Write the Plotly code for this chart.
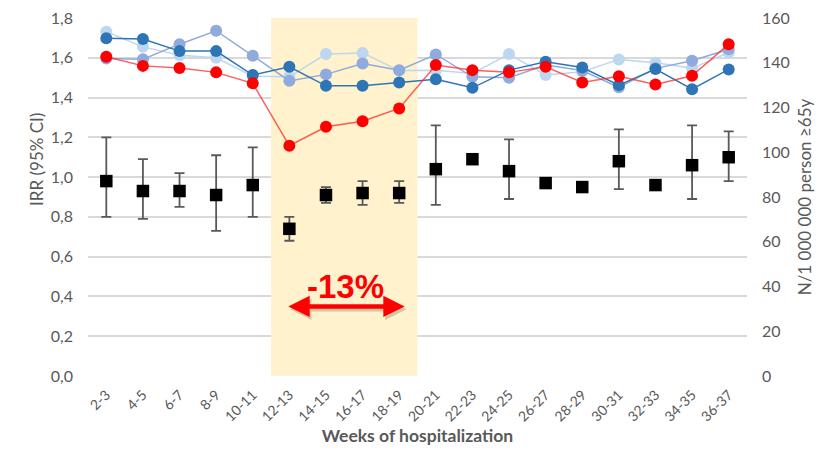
import plotly.graph_objects as go

# Two-week hospitalization periods
weeks = ["2-3", "4-5", "6-7", "8-9", "10-11", "12-13", "14-15", "16-17", "18-19",
         "20-21", "22-23", "24-25", "26-27", "28-29", "30-31", "32-33", "34-35", "36-37"]

# Incidence rate ratio with 95% confidence interval (left axis)
irr = [0.98, 0.93, 0.93, 0.91, 0.96, 0.74, 0.91, 0.92, 0.92,
       1.04, 1.09, 1.03, 0.97, 0.95, 1.08, 0.96, 1.06, 1.10]
irr_lo = [0.80, 0.79, 0.85, 0.73, 0.80, 0.68, 0.87, 0.86, 0.87,
          0.86, 1.07, 0.89, 0.95, 0.93, 0.94, 0.94, 0.89, 0.98]
irr_hi = [1.20, 1.09, 1.02, 1.11, 1.15, 0.80, 0.95, 0.98, 0.98,
          1.26, 1.11, 1.19, 0.99, 0.97, 1.24, 0.98, 1.26, 1.23]

# Hospitalizations per 1 000 000 persons aged 65+ (right axis)
rate_light = [153.9, 147.1, 143.4, 142.2, 134.0, 133.7, 143.9, 144.4, 136.5,
              136.7, 135.2, 143.9, 134.5, 136.0, 141.5, 140.0, 137.5, 144.6]
rate_medium = [141.9, 141.6, 148.3, 154.3, 143.1, 131.9, 134.8, 139.7, 136.7,
               143.7, 133.7, 133.3, 139.0, 136.5, 129.0, 137.5, 140.9, 146.0]
rate_dark = [150.9, 150.6, 145.2, 145.2, 134.5, 138.2, 129.7, 129.7, 131.2,
             132.6, 128.8, 136.7, 140.4, 137.9, 130.0, 137.2, 128.2, 137.0]
rate_red = [142.7, 138.6, 137.7, 135.7, 130.8, 102.9, 111.4, 113.9, 119.6,
            139.0, 136.7, 135.7, 138.2, 131.2, 134.0, 130.3, 134.2, 148.3]

left_ticks = [0.0, 0.2, 0.4, 0.6, 0.8, 1.0, 1.2, 1.4, 1.6, 1.8]
left_labels = ["0,0", "0,2", "0,4", "0,6", "0,8", "1,0", "1,2", "1,4", "1,6", "1,8"]
right_ticks = [0, 20, 40, 60, 80, 100, 120, 140, 160]

drop_label = "-13%"

FONT = "Lato"
GREY = "#595959"

fig = go.Figure()

# Reference line at IRR = 1, spanning the full category range
fig.add_trace(go.Scatter(
    x=[-0.5, len(weeks) - 0.5], y=[1.0, 1.0], mode="lines",
    line=dict(color="#808080", width=4.5), hoverinfo="skip", showlegend=False,
    yaxis="y", cliponaxis=False,
))

# IRR squares with confidence whiskers
fig.add_trace(go.Scatter(
    x=weeks, y=irr, mode="markers",
    marker=dict(symbol="square", size=12.5, color="black"),
    error_y=dict(type="data", symmetric=False,
                 array=[h - v for h, v in zip(irr_hi, irr)],
                 arrayminus=[v - l for v, l in zip(irr, irr_lo)],
                 color=GREY, thickness=1.8, width=5),
    showlegend=False, yaxis="y",
))

series = [
    (rate_light, "#BDD7EE", "#BDD7EE"),
    (rate_medium, "#8FAADC", "#8FAADC"),
    (rate_dark, "#2E75B6", "#2E75B6"),
    (rate_red, "#FF0000", "rgba(255,40,40,0.75)"),
]
for vals, mcol, lcol in series:
    fig.add_trace(go.Scatter(
        x=weeks, y=vals, mode="lines+markers",
        line=dict(color=lcol, width=1.5),
        marker=dict(symbol="circle", size=12, color=mcol),
        showlegend=False, yaxis="y2",
    ))

# Highlighted period
fig.add_shape(type="rect", xref="x", yref="y", x0=4.5, x1=8.5, y0=0, y1=1.8,
              fillcolor="#FFF2CC", line=dict(width=0), layer="between")

# Double-headed arrow with a soft shadow and the percentage label
fig.add_annotation(x=8.2, y=0.335, ax=4.98, ay=0.335, xref="x", yref="y",
                   axref="x", ayref="y", text="", showarrow=True,
                   arrowside="end+start", arrowhead=2, startarrowhead=2,
                   arrowsize=0.95, startarrowsize=0.95, arrowwidth=4.5,
                   arrowcolor="rgba(0,0,0,0.18)")
fig.add_annotation(x=8.15, y=0.35, ax=4.93, ay=0.35, xref="x", yref="y",
                   axref="x", ayref="y", text="", showarrow=True,
                   arrowside="end+start", arrowhead=2, startarrowhead=2,
                   arrowsize=0.95, startarrowsize=0.95, arrowwidth=4.5,
                   arrowcolor="#FF0000")
fig.add_annotation(x=6.54, y=0.45, xref="x", yref="y", text=f"<b>{drop_label}</b>",
                   showarrow=False, font=dict(family="Arial", size=33, color="#FF0000"))

# Left axis title, placed slightly above the vertical centre
fig.add_annotation(x=0, y=0.605, xref="paper", yref="paper", xshift=-64,
                   text="IRR (95% CI)", textangle=-90, showarrow=False,
                   font=dict(family=FONT, size=17, color=GREY))

fig.update_layout(
    width=821, height=449,
    margin=dict(l=88, r=74, t=18, b=73),
    paper_bgcolor="white", plot_bgcolor="white",
    font=dict(family=FONT, color=GREY),
    xaxis=dict(
        type="category", categoryorder="array", categoryarray=weeks,
        range=[-0.5, len(weeks) - 0.5], showgrid=False, zeroline=False,
        showline=False, tickangle=-45, tickfont=dict(size=14, color=GREY),
        ticks="", ticklabelstandoff=7, automargin=False,
        title=dict(text="<b>Weeks of hospitalization</b>",
                   font=dict(size=17.5, color=GREY), standoff=6),
    ),
    yaxis=dict(
        range=[0, 1.8], tickvals=left_ticks, ticktext=left_labels,
        showgrid=True, gridcolor="#D9D9D9", gridwidth=1.5, zeroline=False,
        showline=False, tickfont=dict(size=16, color=GREY), ticklabelstandoff=14,
        automargin=False,
    ),
    yaxis2=dict(
        range=[0, 160], tickvals=right_ticks, overlaying="y", side="right",
        showgrid=False, zeroline=False, showline=False,
        tickfont=dict(size=16, color=GREY), ticklabelstandoff=14, automargin=False,
        title=dict(text="N/1 000 000 person ≥65y", font=dict(size=17, color=GREY),
                   standoff=10),
    ),
)

fig.write_html("out.html")
